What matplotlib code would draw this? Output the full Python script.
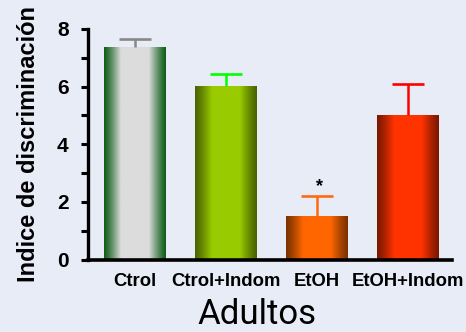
import numpy as np
import matplotlib
matplotlib.use("Agg")
import matplotlib.pyplot as plt
from matplotlib.colors import to_rgb
from matplotlib.ticker import MultipleLocator

# Data
categories = ["Ctrol", "Ctrol+Indom", "EtOH", "EtOH+Indom"]
means = [7.38, 6.02, 1.52, 5.02]
sem_upper = [0.26, 0.41, 0.70, 1.06]
significant = [False, False, True, False]

# Bar shading: colour at the bar edges and at the centre
edge_colors = ["#105e18", "#4a6300", "#7a3200", "#7a1700"]
center_colors = ["#dcdcdc", "#99cc00", "#ff6600", "#ff3300"]
err_colors = ["#888888", "#00ff00", "#ff6a10", "#ff0000"]

bg = "#e8ecf6"
plt.rcParams["font.family"] = ["Liberation Sans", "DejaVu Sans"]

fig = plt.figure(figsize=(4.66, 3.32), dpi=100, facecolor=bg)
ax = fig.add_axes([0.189, 0.218, 0.781, 0.695], facecolor=bg)

x = np.arange(len(categories))
bars = ax.bar(x, means, width=0.68, color="none", edgecolor="none", zorder=2)

# cylindrical shading inside each bar
t = np.linspace(0, 1, 256)
prof = np.clip((1 - np.abs(2 * t - 1)) / 0.55, 0, 1) ** 1.2
for bar, ec, cc in zip(bars, edge_colors, center_colors):
    e = np.array(to_rgb(ec))
    c = np.array(to_rgb(cc))
    img = e[None, None, :] + (c - e)[None, None, :] * prof[None, :, None]
    x0, y0 = bar.get_x(), bar.get_y()
    w, h = bar.get_width(), bar.get_height()
    im = ax.imshow(img, extent=[x0, x0 + w, y0, y0 + h], aspect="auto",
                   interpolation="bilinear", zorder=2)
    im.set_clip_path(bar)

# upper-only error bars
for xi, m, s, col in zip(x, means, sem_upper, err_colors):
    _, caps, _ = ax.errorbar(xi, m, yerr=[[0], [s]], fmt="none", ecolor=col,
                             elinewidth=1.8, capsize=11.5, capthick=1.9, zorder=3)
    caps[0].set_visible(False)

for xi, m, s, sig in zip(x, means, sem_upper, significant):
    if sig:
        ax.text(xi + 0.03, m + s + 0.0, "*", ha="center", va="bottom",
                fontsize=13, fontweight="bold")

ax.set_xlim(-0.52, 3.49)
ax.set_ylim(0, 8)
ax.spines["top"].set_visible(False)
ax.spines["right"].set_visible(False)
ax.spines["left"].set_linewidth(2.4)
ax.spines["bottom"].set_linewidth(2.6)
ax.spines["left"].set_bounds(0, 8)

ax.yaxis.set_major_locator(MultipleLocator(2))
ax.yaxis.set_minor_locator(MultipleLocator(1))
ax.tick_params(axis="y", which="both", direction="out", length=5, width=2.2,
               labelsize=15, pad=9)
for lab in ax.get_yticklabels():
    lab.set_fontweight("bold")
ax.yaxis.get_major_ticks()[0].tick1line.set_color("#0000ff")

ax.set_xticks(x)
ax.set_xticklabels(categories, fontsize=13.3, fontweight="bold")
ax.tick_params(axis="x", length=0, pad=9.5)

ax.set_ylabel("Indice de discriminación", fontsize=17, fontweight="bold", labelpad=12)
ax.set_xlabel("Adultos", fontsize=25, family=["Roboto", "DejaVu Sans"])
ax.xaxis.set_label_coords(0.465, -0.165)
ax.xaxis.label.set_va("top")

fig.savefig("out.png", dpi=100, facecolor=bg)
